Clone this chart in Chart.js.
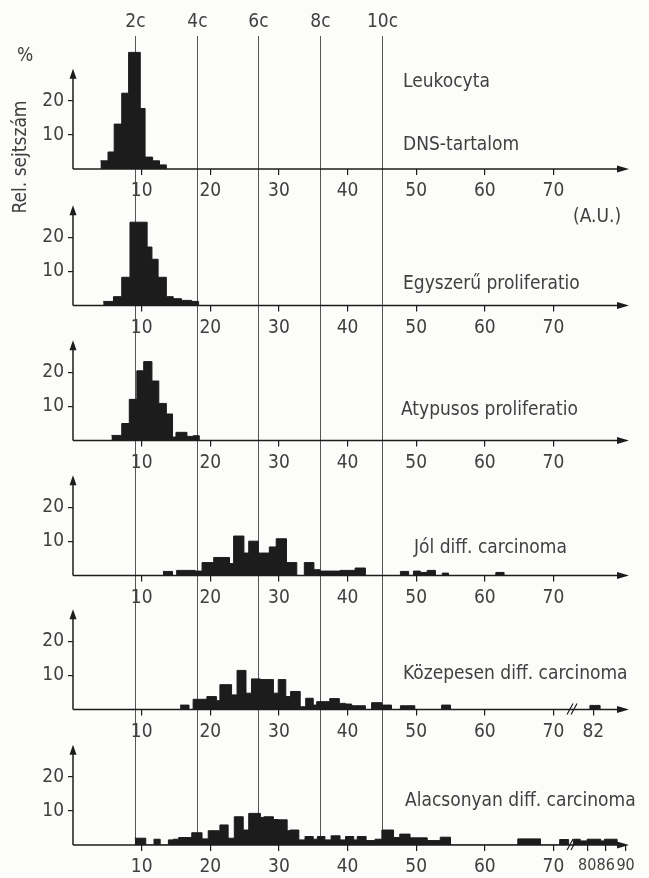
<!DOCTYPE html>
<html>
<head>
<meta charset="utf-8">
<script src="https://cdn.jsdelivr.net/npm/chart.js@4.4.0/dist/chart.umd.min.js"></script>
<style>
  html, body { margin: 0; padding: 0; background: #fcfcfa; }
  #page { position: relative; width: 649px; height: 878px; overflow: hidden;
          font-family: 'DejaVu Sans Condensed', 'DejaVu Sans', sans-serif; color: #404040; }
  #page canvas { position: absolute; left: 0; top: 0; }
  .lbl { position: absolute; font-size: 19px; line-height: 19px; white-space: nowrap; }
  .rot { position: absolute; font-size: 19px; white-space: nowrap; transform: translate(-50%, -50%) rotate(-90deg); }
</style>
</head>
<body>
<div id="page"></div>
<script>
// DNS-tartalom (A.U.) az x tengelyen, rel. sejtszám (%) az y tengelyen
const ploidyLabels = ['2c', '4c', '6c', '8c', '10c'];
const ploidyValues = [9, 18, 27, 36, 45];

const yTicks = [10, 20];
const ticksMain = [10, 20, 30, 40, 50, 60, 70];
const ticksKozepesen = [10, 20, 30, 40, 50, 60, 70, 82];
const ticksAlacsonyan = [10, 20, 30, 40, 50, 60, 70, 80, 86, 90];

// oszlophatárok (A.U.) és oszlopmagasságok (%)
const leukoEdges = [4.0, 5.1, 6.0, 7.1, 8.1, 9.8, 10.5, 11.6, 12.6, 13.6];
const leukoValues = [2.4, 5.0, 13.2, 22.3, 34.3, 17.8, 3.5, 2.4, 1.2];

const egyszeruEdges = [4.4, 5.9, 7.1, 8.3, 10.8, 11.5, 12.4, 13.6, 14.6, 15.8, 17.3, 18.3];
const egyszeruValues = [1.2, 2.6, 8.3, 24.5, 17.2, 13.6, 8.3, 2.6, 2.0, 1.5, 1.2];

const atypusosEdges = [5.6, 7.1, 8.2, 9.3, 10.3, 11.5, 12.5, 13.6, 14.5, 15.0, 16.6, 17.5, 18.4];
const atypusosValues = [1.5, 5.0, 12.1, 20.5, 23.2, 17.5, 10.9, 7.8, 1.0, 2.4, 1.2, 1.4];

const jolEdges = [13.1, 14.5, 15.1, 17.8, 18.8, 20.5, 22.8, 23.4, 24.9, 25.6,
                  27.0, 28.6, 29.6, 31.1, 32.6, 33.7, 35.1, 36.0, 38.9, 41.1,
                  42.6, 47.7, 48.9, 49.6, 50.6, 51.6, 52.8, 53.8, 54.7, 61.6, 62.8];
const jolValues = [1.2, 0, 1.5, 1.3, 3.8, 5.3, 3.5, 11.6, 6.6, 10.1,
                   6.6, 8.4, 10.8, 3.8, 0, 3.8, 1.7, 1.3, 1.5, 2.2,
                   0, 1.2, 0, 1.3, 0.9, 1.5, 0, 0.7, 0, 0.9];

const kozepesenEdges = [15.6, 16.9, 17.5, 19.5, 20.9, 21.4, 23.1, 23.9, 25.2, 26.0,
                        27.3, 29.2, 29.9, 31.0, 31.7, 33.1, 33.9, 35.0, 35.5, 37.4,
                        38.8, 39.7, 40.6, 42.6, 43.5, 45.0, 46.4, 47.7, 49.8, 53.7,
                        55.0, 80.9, 84.2];
const kozepesenValues = [1.3, 0, 3.0, 3.8, 2.6, 7.3, 4.3, 11.5, 4.8, 9.0,
                         8.8, 4.8, 8.8, 3.8, 5.3, 0.8, 3.3, 1.3, 2.3, 3.2,
                         1.8, 1.6, 1.1, 0, 2.0, 1.3, 0, 1.1, 0, 1.3,
                         0, 1.2];

const alacsonyanEdges = [9.0, 10.6, 11.8, 12.7, 13.9, 14.6, 15.4, 17.3, 18.8, 19.7,
                         21.4, 22.6, 23.5, 24.8, 25.6, 27.3, 27.8, 29.2, 29.9, 31.2,
                         31.6, 32.9, 33.8, 35.0, 35.6, 36.7, 37.6, 38.9, 39.7, 40.9,
                         41.4, 42.7, 44.0, 45.0, 46.7, 47.6, 49.1, 51.6, 53.5, 55.0,
                         64.8, 68.1, 70.9, 72.2, 76, 78, 80, 84.4, 85.6, 88.3];
const alacsonyanValues = [2.0, 0, 1.7, 0, 1.5, 1.7, 2.2, 3.6, 1.8, 4.2,
                          5.9, 2.0, 8.3, 4.4, 9.3, 8.1, 8.3, 7.5, 7.4, 4.2,
                          4.4, 1.5, 2.5, 1.7, 2.5, 1.5, 2.7, 1.5, 2.5, 1.5,
                          2.5, 1.3, 1.7, 4.4, 2.2, 3.2, 2.1, 1.3, 2.3, 0,
                          1.8, 0, 1.6, 0, 1.7, 1.2, 1.7, 1.2, 1.7];

// megszakított tengely: 72.5 után sűrítve folytatódik (a feliratok szerinti töréspontok)
const BREAK_AT = 72.5;
const breakValues = [76, 80, 86, 90];
const breakAxis = [72.9, 74.9, 77.6, 80.5];
function toAxis(v) {
    if (v <= BREAK_AT) return v;
    if (v <= breakValues[0]) return breakAxis[0];
    for (let i = 1; i < breakValues.length; i++) {
        if (v <= breakValues[i] || i === breakValues.length - 1) {
            const t = (v - breakValues[i - 1]) / (breakValues[i] - breakValues[i - 1]);
            return breakAxis[i - 1] + t * (breakAxis[i] - breakAxis[i - 1]);
        }
    }
}

const INK = '#1c1c1c';
const TXT = '#404040';
const GUIDE = '#555';
const FONT = "'DejaVu Sans Condensed', 'DejaVu Sans', sans-serif";
const W = 649, H = 878;
const PX_PER_UNIT = 3.4;
const Y_MAX = 36;
const Y_ARROW = 29.5;
const X_AXIS_H = 32;

const panels = [
    { edges: leukoEdges, values: leukoValues, ticks: ticksMain, base: 169 },
    { edges: egyszeruEdges, values: egyszeruValues, ticks: ticksMain, base: 305.5 },
    { edges: atypusosEdges, values: atypusosValues, ticks: ticksMain, base: 440.5 },
    { edges: jolEdges, values: jolValues, ticks: ticksMain, base: 575.5 },
    { edges: kozepesenEdges, values: kozepesenValues, ticks: ticksKozepesen, base: 709.5, brk: true },
    { edges: alacsonyanEdges, values: alacsonyanValues, ticks: ticksAlacsonyan, base: 845, brk: true, guides: true }
];

const texts = [
    { t: '%', x: 17, y: 61 },
    { t: 'Leukocyta', x: 403, y: 87 },
    { t: 'DNS-tartalom', x: 403, y: 150 },
    { t: '(A.U.)', x: 573, y: 222 },
    { t: 'Egyszerű proliferatio', x: 403, y: 289 },
    { t: 'Atypusos proliferatio', x: 401, y: 415 },
    { t: 'Jól diff. carcinoma', x: 414, y: 553 },
    { t: 'Közepesen diff. carcinoma', x: 403, y: 679 },
    { t: 'Alacsonyan diff. carcinoma', x: 405, y: 806 }
];

const axesPlugin = {
    id: 'axes',
    beforeDatasetsDraw(chart, args, opts) {
        if (!opts.guides) return;
        const ctx = chart.ctx;
        const x = chart.scales.x;
        ctx.save();
        ctx.strokeStyle = GUIDE;
        ctx.lineWidth = 1;
        ctx.fillStyle = TXT;
        ctx.font = '19px ' + FONT;
        ctx.textAlign = 'center';
        ctx.textBaseline = 'alphabetic';
        ploidyValues.forEach(function (v, i) {
            const px = Math.round(x.getPixelForValue(v)) + 0.5;
            ctx.beginPath();
            ctx.moveTo(px, 36);
            ctx.lineTo(px, chart.chartArea.bottom);
            ctx.stroke();
            ctx.fillText(ploidyLabels[i], px, 27);
        });
        ctx.restore();
    },
    afterDatasetsDraw(chart, args, opts) {
        const ctx = chart.ctx;
        const a = chart.chartArea;
        const x = chart.scales.x, y = chart.scales.y;
        const base = y.getPixelForValue(0);
        const tip = y.getPixelForValue(Y_ARROW);
        ctx.save();
        ctx.strokeStyle = INK;
        ctx.fillStyle = INK;
        ctx.lineWidth = 1.5;
        ctx.beginPath();
        ctx.moveTo(a.left, base);
        ctx.lineTo(a.right - 8, base);
        ctx.moveTo(a.left, base);
        ctx.lineTo(a.left, tip + 6);
        ctx.stroke();
        ctx.beginPath();
        ctx.moveTo(a.right, base);
        ctx.lineTo(a.right - 12, base - 3.5);
        ctx.lineTo(a.right - 12, base + 3.5);
        ctx.closePath();
        ctx.fill();
        ctx.beginPath();
        ctx.moveTo(a.left, tip);
        ctx.lineTo(a.left - 3.5, tip + 10);
        ctx.lineTo(a.left + 3.5, tip + 10);
        ctx.closePath();
        ctx.fill();
        if (opts.brk) {
            const bx = x.getPixelForValue(BREAK_AT + 0.2);
            ctx.lineWidth = 1.2;
            ctx.beginPath();
            ctx.moveTo(bx - 5, base + 5);
            ctx.lineTo(bx + 1, base - 6);
            ctx.moveTo(bx - 1, base + 5);
            ctx.lineTo(bx + 5, base - 6);
            ctx.stroke();
        }
        ctx.restore();
    }
};

function toPoints(edges, values) {
    return edges.map(function (e, i) {
        return { x: toAxis(e), y: i < values.length ? values[i] : 0 };
    });
}

function makePanel(p) {
    const canvas = document.createElement('canvas');
    canvas.width = W;
    canvas.height = H;
    canvas.style.zIndex = p.guides ? 0 : 1;
    document.getElementById('page').appendChild(canvas);

    return new Chart(canvas, {
        type: 'line',
        data: {
            datasets: [{
                data: toPoints(p.edges, p.values),
                stepped: 'before',
                fill: 'origin',
                backgroundColor: INK,
                borderColor: INK,
                borderWidth: 1,
                pointRadius: 0
            }]
        },
        options: {
            responsive: false,
            animation: false,
            events: [],
            layout: {
                padding: {
                    top: p.base - Y_MAX * PX_PER_UNIT,
                    bottom: H - p.base - X_AXIS_H,
                    left: 0,
                    right: 20
                }
            },
            plugins: {
                legend: { display: false },
                tooltip: { enabled: false },
                axes: { guides: !!p.guides, brk: !!p.brk }
            },
            scales: {
                x: {
                    type: 'linear',
                    min: 0,
                    max: 81,
                    afterBuildTicks: function (s) {
                        s.ticks = p.ticks.map(function (v) { return { value: toAxis(v) }; });
                    },
                    afterFit: function (s) { s.height = X_AXIS_H; },
                    border: { display: false },
                    grid: { drawOnChartArea: false, tickLength: 6, color: INK, lineWidth: 1.2 },
                    ticks: {
                        autoSkip: false,
                        maxRotation: 0,
                        padding: 5,
                        color: TXT,
                        // a törés utáni feliratok szorosabbak
                        font: function (c) {
                            return { family: FONT, size: p.ticks[c.index] > 75 && p.ticks.length > 8 ? 16 : 19 };
                        },
                        callback: function (v, i) { return p.ticks[i]; }
                    }
                },
                y: {
                    min: 0,
                    max: Y_MAX,
                    afterBuildTicks: function (s) {
                        s.ticks = yTicks.map(function (v) { return { value: v }; });
                    },
                    afterFit: function (s) { s.width = 73; },
                    border: { display: false },
                    grid: { drawOnChartArea: false, tickLength: 5, color: INK, lineWidth: 1.2 },
                    ticks: { padding: 4, color: TXT, font: { family: FONT, size: 19 } }
                }
            }
        },
        plugins: [axesPlugin]
    });
}

window.onload = function () {
    const page = document.getElementById('page');
    panels.forEach(makePanel);

    texts.forEach(function (d) {
        const el = document.createElement('div');
        el.className = 'lbl';
        el.textContent = d.t;
        el.style.left = d.x + 'px';
        el.style.top = (d.y - 16) + 'px';
        el.style.zIndex = 2;
        page.appendChild(el);
    });

    const rot = document.createElement('div');
    rot.className = 'rot';
    rot.textContent = 'Rel. sejtszám';
    rot.style.left = '19px';
    rot.style.top = '157px';
    rot.style.zIndex = 2;
    page.appendChild(rot);
};
</script>
</body>
</html>
